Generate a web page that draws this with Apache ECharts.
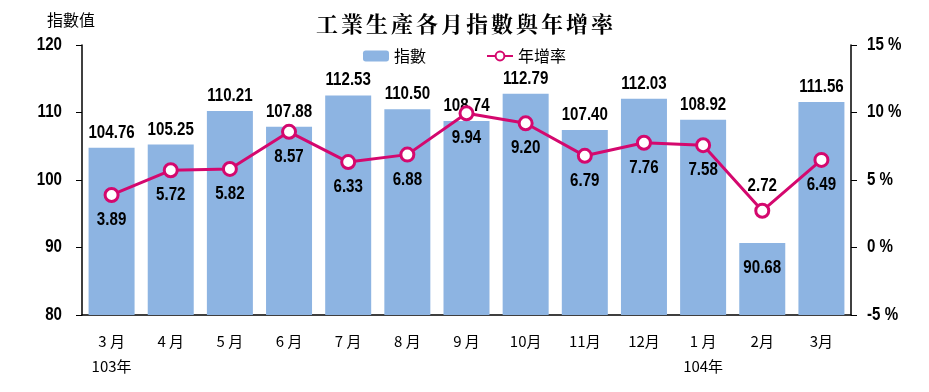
<!DOCTYPE html>
<html><head><meta charset="utf-8">
<script src="https://cdn.jsdelivr.net/npm/echarts@6/dist/echarts.min.js"></script>
<style>html,body{margin:0;padding:0;background:#fff}#c{width:929px;height:392px}</style>
</head><body><div id="c"></div>
<script>
const months = ['3 月','4 月','5 月','6 月','7 月','8 月','9 月','10月','11月','12月','1 月','2月','3月'];
const yearTags = ['103年','','','','','','','','','','104年','',''];
const indexVals = [104.76,105.25,110.21,107.88,112.53,110.50,108.74,112.79,107.40,112.03,108.92,90.68,111.56];
const growthVals = [3.89,5.72,5.82,8.57,6.33,6.88,9.94,9.20,6.79,7.76,7.58,2.72,6.49];
const leftTicks = [80,90,100,110,120];
const rightTicks = [-5,0,5,10,15];

const numFont = '"Liberation Sans",Arial,sans-serif';
const cjk = '"Noto Sans CJK TC","Noto Sans",sans-serif';
const titleFont = '"Noto Serif CJK TC","Noto Sans CJK TC",serif';
// condense numeric labels / space out the title (text still drawn by ECharts' own fillText calls)
(function(){
  const P = CanvasRenderingContext2D.prototype;
  const base = P.fillText;
  P.fillText = function(t,x,y,m){
    const f = this.font || '';
    t = String(t);
    if(f.indexOf('Liberation')>=0){
      this.save(); this.translate(x,y); this.scale(0.84,1);
      base.call(this,t,0,0); this.restore(); return;
    }
    if(f.indexOf('Serif')>=0 && t.length>1){
      const gap = 3, chars = Array.from(t);
      const ws = chars.map(c=>this.measureText(c).width);
      const total = ws.reduce((a,b)=>a+b,0)+gap*(chars.length-1);
      const al = this.textAlign;
      let sx = al==='center' ? x-total/2 : (al==='right'||al==='end') ? x-total : x;
      this.save(); this.textAlign='left';
      chars.forEach((c,i)=>{ base.call(this,c,sx,y); sx += ws[i]+gap; });
      this.restore(); return;
    }
    return m===undefined ? base.call(this,t,x,y) : base.call(this,t,x,y,m);
  };
})();
const chart = echarts.init(document.getElementById('c'));
chart.setOption({
  animation:false,
  title:{text:'工業生產各月指數與年增率',left:'center',top:8,
    textStyle:{fontFamily:titleFont,fontSize:22,fontWeight:'bold',color:'#000'}},
  legend:{top:43,left:'center',itemGap:60,itemWidth:26,itemHeight:11,
    textStyle:{fontFamily:cjk,fontSize:16,color:'#000'},
    data:['指數','年增率']},
  graphic:[{type:'text',left:47,top:12,style:{text:'指數值',font:'16px '+cjk,fill:'#000'}}],
  grid:{left:82,right:78,top:45,bottom:77,containLabel:false},
  xAxis:{type:'category',data:months,
    axisLine:{onZero:false,lineStyle:{color:'#000',width:1.5}},axisTick:{show:false},
    axisLabel:{margin:14,interval:0,color:'#000',fontFamily:cjk,fontSize:15,lineHeight:25,
      formatter:(v,i)=> yearTags[i] ? v+'\n'+yearTags[i] : v}},
  yAxis:[
    {type:'value',min:leftTicks[0],max:leftTicks[leftTicks.length-1],interval:10,splitLine:{show:false},
     axisLine:{show:true,lineStyle:{color:'#000',width:1.5}},axisTick:{show:true,length:6,lineStyle:{color:'#000'}},
     axisLabel:{margin:20,color:'#000',fontFamily:numFont,fontWeight:'bold',fontSize:18}},
    {type:'value',min:rightTicks[0],max:rightTicks[rightTicks.length-1],interval:5,splitLine:{show:false},
     axisLine:{show:true,lineStyle:{color:'#000',width:1.5}},axisTick:{show:true,length:6,lineStyle:{color:'#000'}},
     axisLabel:{margin:16,color:'#000',fontFamily:numFont,fontWeight:'bold',fontSize:18,formatter:'{value} %'}}
  ],
  series:[
    {name:'指數',type:'bar',yAxisIndex:0,barWidth:46,
     itemStyle:{color:'#8DB4E2'},
     label:{show:true,position:'top',distance:6,color:'#000',fontFamily:numFont,fontWeight:'bold',fontSize:18,
       formatter:p=>p.value.toFixed(2)},
     data:indexVals.map((v,i)=> i===11 ? {value:v,label:{position:'insideTop',distance:16}} : v)},
    {name:'年增率',type:'line',yAxisIndex:1,symbol:'circle',symbolSize:13,
     lineStyle:{color:'#D4086E',width:3},
     itemStyle:{color:'#fff',borderColor:'#D4086E',borderWidth:3},
     label:{show:true,position:'bottom',distance:8,color:'#000',fontFamily:numFont,fontWeight:'bold',fontSize:18,
       formatter:p=>p.value.toFixed(2)},
     data:growthVals.map((v,i)=> i===11 ? {value:v,label:{position:'top'}} : v)}
  ]
});
</script></body></html>
